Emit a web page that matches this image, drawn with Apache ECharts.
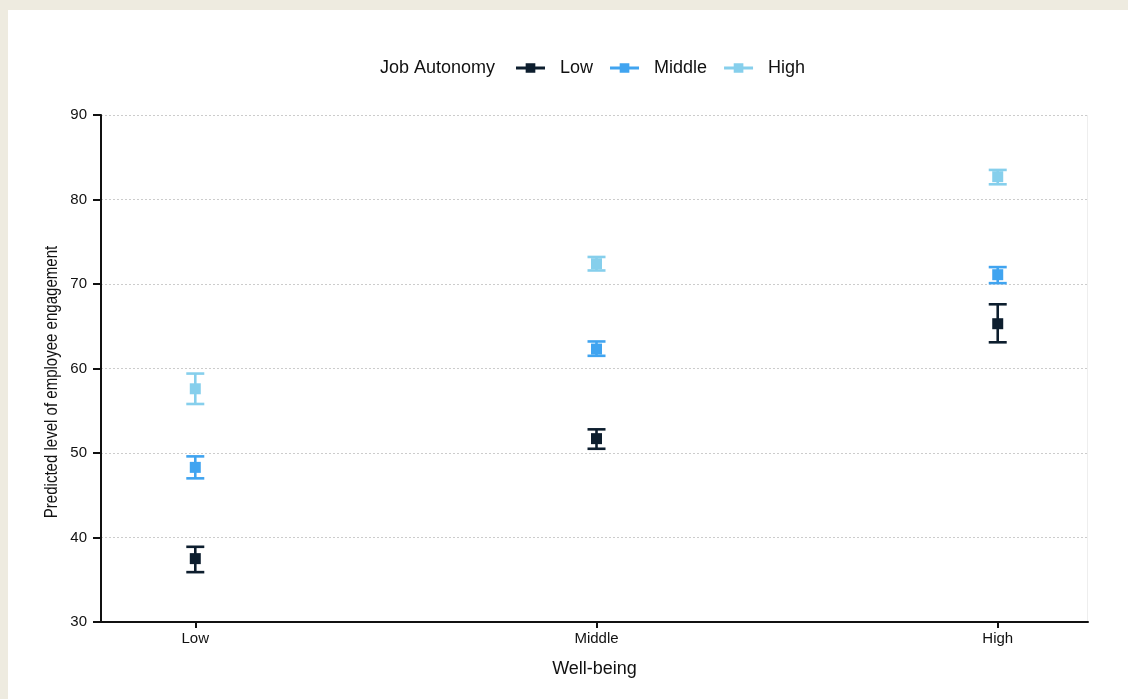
<!DOCTYPE html>
<html>
<head>
<meta charset="utf-8">
<script src="https://cdn.jsdelivr.net/npm/echarts@6/dist/echarts.min.js"></script>
<style>
html,body{margin:0;padding:0;background:#EEEBE0;}
#wrap{position:absolute;left:8px;top:10px;width:1120px;height:689px;background:#fff;}
#chart{position:absolute;left:0;top:0;width:1128px;height:699px;}
</style>
</head>
<body>
<div id="wrap"></div>
<div id="chart"></div>
<script>
// Data
const wellBeing = ['Low', 'Middle', 'High'];
const groups = ['Low', 'Middle', 'High'];
const colors = ['#0D1E2E', '#40A4F0', '#86CFEC'];
// predicted values per job autonomy group, at wellbeing Low, Middle, High
const estLow = [37.5, 51.7, 65.3];
const lowerLow = [35.9, 50.5, 63.1];
const upperLow = [38.9, 52.8, 67.6];
const estMiddle = [48.3, 62.3, 71.1];
const lowerMiddle = [47.0, 61.5, 70.1];
const upperMiddle = [49.6, 63.2, 72.0];
const estHigh = [57.6, 72.4, 82.7];
const lowerHigh = [55.8, 71.6, 81.8];
const upperHigh = [59.4, 73.2, 83.5];
const yTicks = [30, 40, 50, 60, 70, 80, 90];

const est = [estLow, estMiddle, estHigh];
const lower = [lowerLow, lowerMiddle, lowerHigh];
const upper = [upperLow, upperMiddle, upperHigh];

const chart = echarts.init(document.getElementById('chart'), null, {renderer: 'canvas'});

const series = [];
groups.forEach((g, gi) => {
  const barData = wellBeing.map((w, i) => [i + 1, lower[gi][i], upper[gi][i]]);
  series.push({
    name: g,
    type: 'custom',
    z: 3,
    data: barData,
    encode: {x: 0, y: [1, 2]},
    renderItem: function (params, api) {
      const x = api.value(0);
      const lo = api.coord([x, api.value(1)]);
      const hi = api.coord([x, api.value(2)]);
      const cap = 9;
      const st = {stroke: colors[gi], lineWidth: 2.6, fill: null};
      return {
        type: 'group',
        children: [
          {type: 'line', shape: {x1: lo[0], y1: lo[1], x2: hi[0], y2: hi[1]}, style: st},
          {type: 'line', shape: {x1: lo[0] - cap, y1: lo[1], x2: lo[0] + cap, y2: lo[1]}, style: st},
          {type: 'line', shape: {x1: hi[0] - cap, y1: hi[1], x2: hi[0] + cap, y2: hi[1]}, style: st}
        ]
      };
    }
  });
  series.push({
    name: g,
    type: 'scatter',
    z: 4,
    symbol: 'rect',
    symbolSize: 11,
    itemStyle: {color: colors[gi], opacity: 1},
    data: wellBeing.map((w, i) => [i + 1, est[gi][i]])
  });
});

const legendIcon = 'path://M0,3.5 L30,3.5 L30,6.5 L0,6.5 Z M10,0 L20,0 L20,10 L10,10 Z';

chart.setOption({
  backgroundColor: 'transparent',
  animation: false,
  color: colors,
  textStyle: {fontFamily: 'Liberation Sans, Arial, sans-serif'},
  graphic: [
    {type: 'rect', left: 1087, top: 115, shape: {width: 1, height: 507}, style: {fill: '#eeeeee'}, silent: true, z: 0},
    {type: 'text', x: 380, y: 68, style: {text: 'Job Autonomy', font: '18px "Liberation Sans", Arial, sans-serif', fill: '#111', textVerticalAlign: 'middle'}},
    {type: 'text', x: 52, y: 382, rotation: Math.PI / 2, scaleX: 0.835, scaleY: 1,
     style: {text: 'Predicted level of employee engagement', font: '18px "Liberation Sans", Arial, sans-serif', fill: '#111', textAlign: 'center', textVerticalAlign: 'middle'}}
  ],
  legend: {
    left: 516,
    top: 59,
    padding: 0,
    itemWidth: 29,
    itemHeight: 10,
    itemGap: 17,
    textStyle: {fontSize: 18, color: '#111', padding: [0, 0, 0, 10]},
    data: groups.map((g, gi) => ({name: g, icon: legendIcon, itemStyle: {color: colors[gi]}}))
  },
  grid: {left: 101, right: 40, top: 115, bottom: 77, containLabel: false},
  xAxis: {
    type: 'value',
    min: 0.765,
    max: 3.225,
    name: 'Well-being',
    nameLocation: 'middle',
    nameGap: 38,
    nameTextStyle: {fontSize: 18, color: '#111'},
    axisLine: {show: true, onZero: false, lineStyle: {color: '#111', width: 2}},
    axisTick: {show: true, customValues: [1, 2, 3], length: 6, lineStyle: {color: '#111', width: 2}},
    axisLabel: {customValues: [1, 2, 3], formatter: v => wellBeing[Math.round(v) - 1], fontSize: 15, color: '#111', margin: 9},
    splitLine: {show: false}
  },
  yAxis: {
    type: 'value',
    min: 30,
    max: 90,
    interval: 10,
    axisLine: {show: true, lineStyle: {color: '#111', width: 2}},
    axisTick: {show: true, length: 8, lineStyle: {color: '#111', width: 2}},
    axisLabel: {fontSize: 15, color: '#111', margin: 14, formatter: v => yTicks.includes(v) ? String(v) : ''},
    splitLine: {show: true, lineStyle: {color: '#cccccc', type: [2, 2], width: 1}}
  },
  series: series
});
</script>
</body>
</html>
